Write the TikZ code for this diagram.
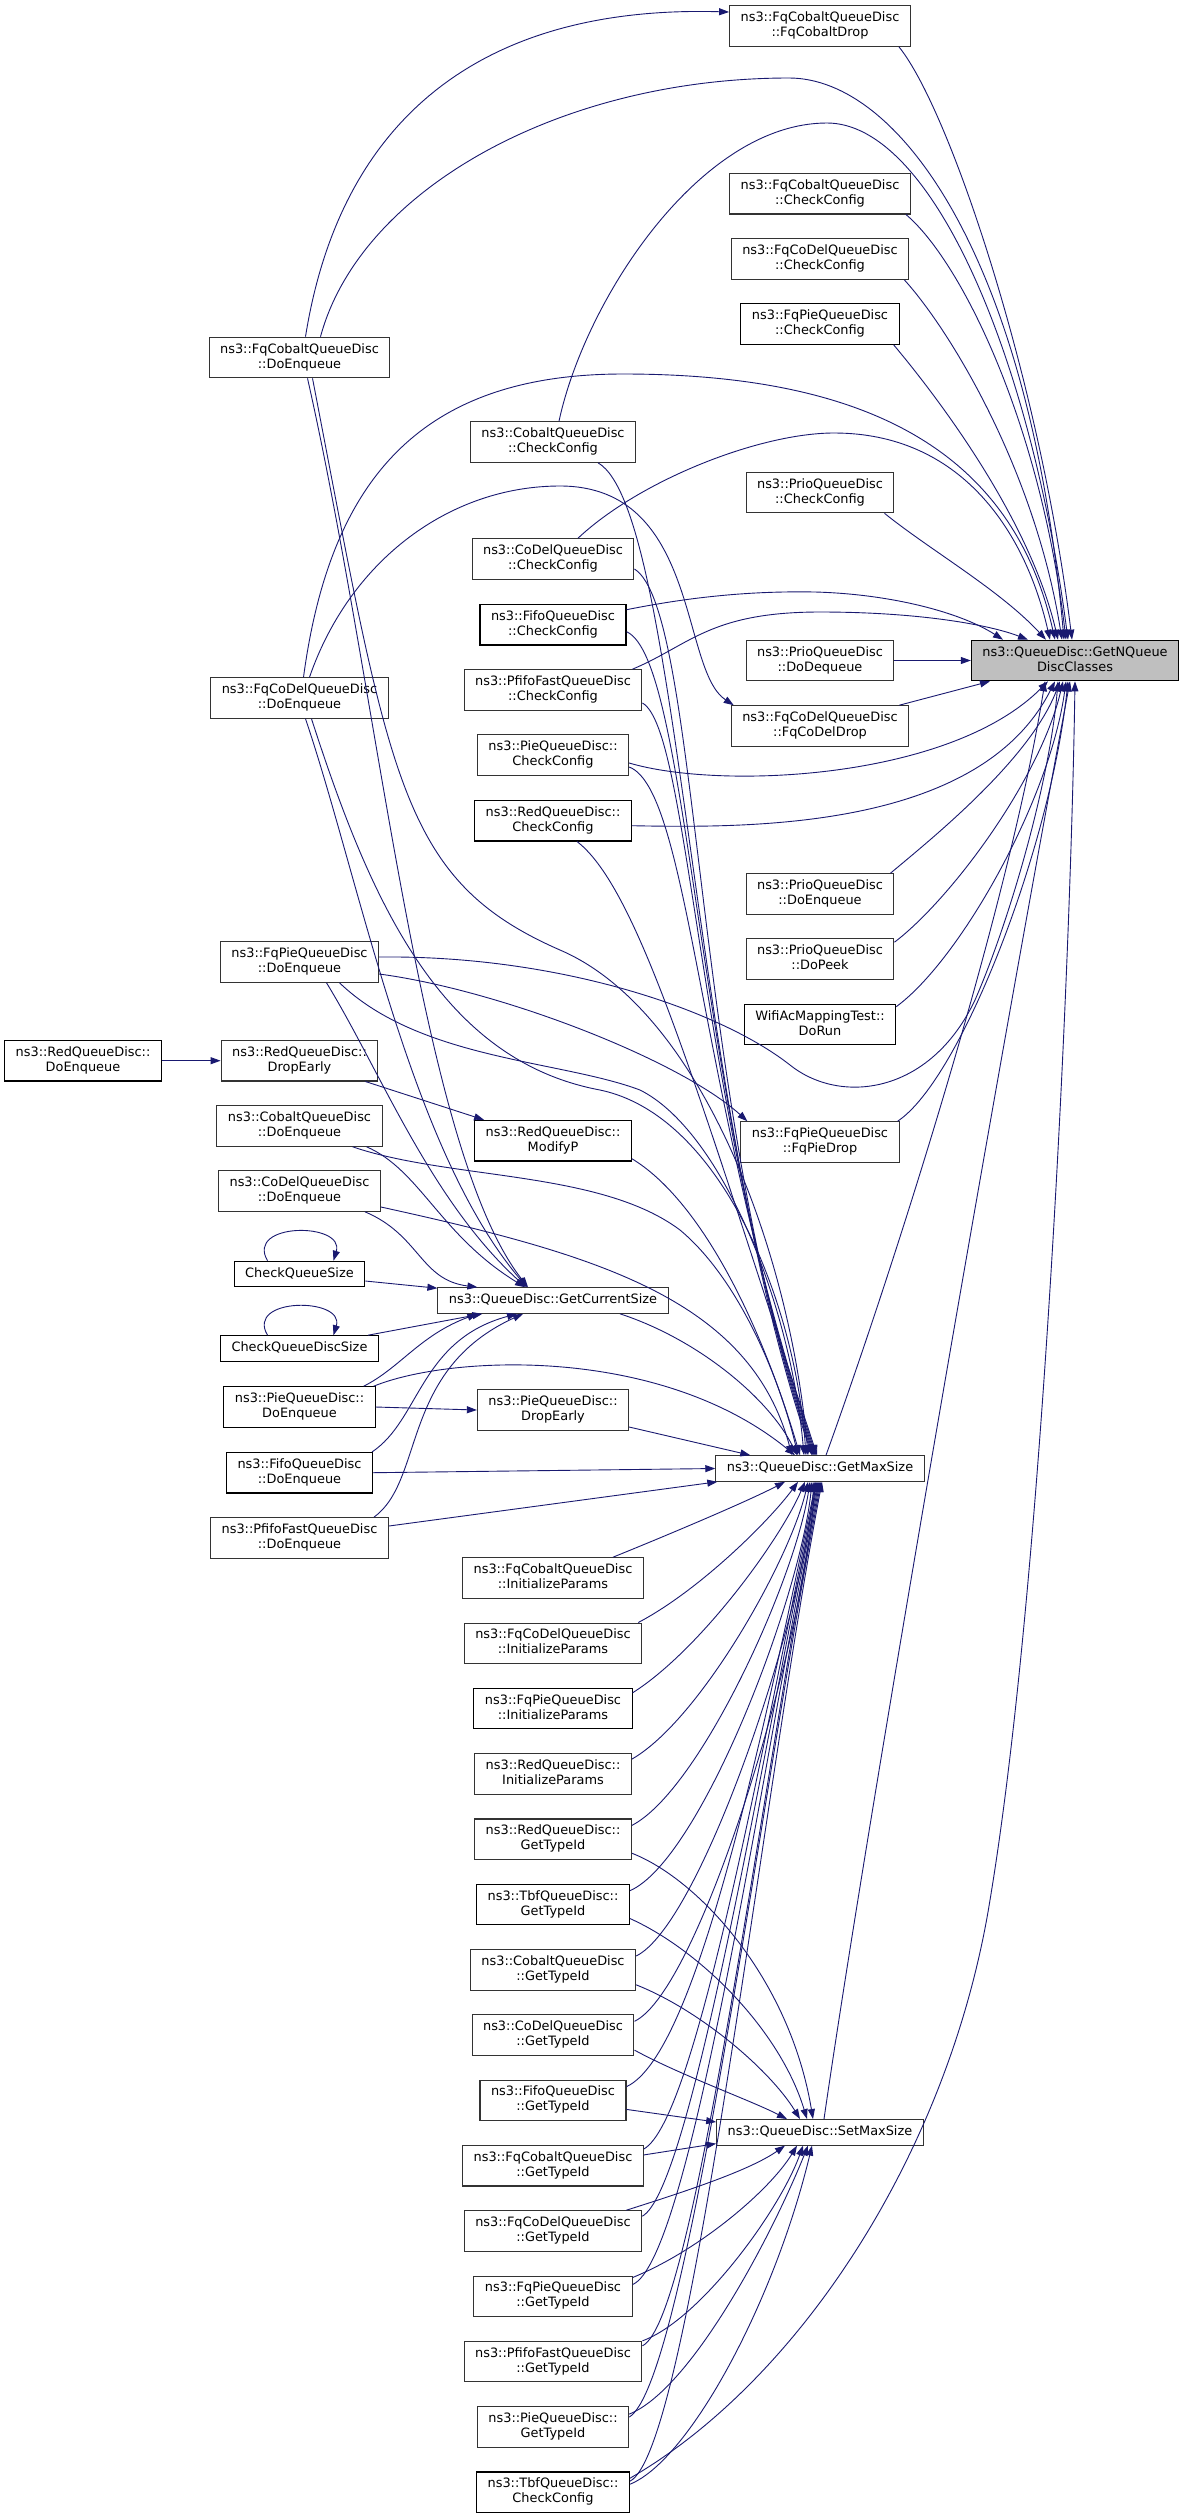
\documentclass[tikz,border=0pt]{standalone}
\usepackage{fontspec}
\newfontfamily\dvs{DejaVu Sans}
\usetikzlibrary{arrows.meta}
\definecolor{edgec}{HTML}{191970}
\definecolor{bord}{HTML}{333333}
\definecolor{hil}{HTML}{BFBFBF}
\begin{document}
\begin{tikzpicture}[x=1pt,y=-1pt,
  box/.style={draw=bord, line width=1.1pt, fill=white, align=center, inner xsep=11pt, inner ysep=5.25pt,
    font=\dvs\fontsize{12.9}{15}\selectfont},
  bbox/.style={box, draw=black},
  root/.style={box, fill=hil, draw=black},
  edge/.style={draw=edgec, line width=0.9pt, -{Triangle[length=10pt,width=7pt]}}]
\useasboundingbox (0,0) rectangle (1185,2519);
\fill[white] (0,0) rectangle (1185,2519);
% column A
\node[bbox] (rdEnq) at (83,1060.7) {\strut ns3::RedQueueDisc::\\\strut DoEnqueue};
% column B
\node[box] (fqcEnq) at (299.5,357.5) {\strut ns3::FqCobaltQueueDisc\\\strut ::DoEnqueue};
\node[box] (fqdEnq) at (299.5,698) {\strut ns3::FqCoDelQueueDisc\\\strut ::DoEnqueue};
\node[box] (fqpEnq) at (299.5,962) {\strut ns3::FqPieQueueDisc\\\strut ::DoEnqueue};
\node[box] (rdDrop) at (299.5,1060.7) {\strut ns3::RedQueueDisc::\\\strut DropEarly};
\node[box] (cobEnq) at (299.5,1126) {\strut ns3::CobaltQueueDisc\\\strut ::DoEnqueue};
\node[box] (cdEnq) at (299.5,1191) {\strut ns3::CoDelQueueDisc\\\strut ::DoEnqueue};
\node[bbox] (cqs) at (299.5,1274) {\strut CheckQueueSize};
\node[bbox] (cqds) at (299.5,1348.5) {\strut CheckQueueDiscSize};
\node[bbox] (pieEnq) at (299.5,1407) {\strut ns3::PieQueueDisc::\\\strut DoEnqueue};
\node[bbox] (fifoEnq) at (299.5,1472.7) {\strut ns3::FifoQueueDisc\\\strut ::DoEnqueue};
\node[box] (pfEnq) at (299.5,1538) {\strut ns3::PfifoFastQueueDisc\\\strut ::DoEnqueue};
% column C
\node[box] (cobCC) at (553,442) {\strut ns3::CobaltQueueDisc\\\strut ::CheckConfig};
\node[box] (cdCC) at (553,559) {\strut ns3::CoDelQueueDisc\\\strut ::CheckConfig};
\node[bbox] (fifoCC) at (553,624.7) {\strut ns3::FifoQueueDisc\\\strut ::CheckConfig};
\node[box] (pfCC) at (553,690) {\strut ns3::PfifoFastQueueDisc\\\strut ::CheckConfig};
\node[box] (pieCC) at (553,755) {\strut ns3::PieQueueDisc::\\\strut CheckConfig};
\node[bbox] (rdCC) at (553,820.7) {\strut ns3::RedQueueDisc::\\\strut CheckConfig};
\node[bbox] (modP) at (553,1140.7) {\strut ns3::RedQueueDisc::\\\strut ModifyP};
\node[box] (gcs) at (553,1300.5) {\strut ns3::QueueDisc::GetCurrentSize};
\node[box] (pieDrop) at (553,1410) {\strut ns3::PieQueueDisc::\\\strut DropEarly};
\node[box] (fqcIP) at (553,1578) {\strut ns3::FqCobaltQueueDisc\\\strut ::InitializeParams};
\node[box] (fqdIP) at (553,1643.3) {\strut ns3::FqCoDelQueueDisc\\\strut ::InitializeParams};
\node[bbox] (fqpIP) at (553,1708.6) {\strut ns3::FqPieQueueDisc\\\strut ::InitializeParams};
\node[box] (rdIP) at (553,1773.9) {\strut ns3::RedQueueDisc::\\\strut InitializeParams};
\node[box] (rdTI) at (553,1839.2) {\strut ns3::RedQueueDisc::\\\strut GetTypeId};
\node[bbox] (tbfTI) at (553,1904.5) {\strut ns3::TbfQueueDisc::\\\strut GetTypeId};
\node[box] (cobTI) at (553,1969.8) {\strut ns3::CobaltQueueDisc\\\strut ::GetTypeId};
\node[box] (cdTI) at (553,2035.1) {\strut ns3::CoDelQueueDisc\\\strut ::GetTypeId};
\node[box] (fifoTI) at (553,2100.4) {\strut ns3::FifoQueueDisc\\\strut ::GetTypeId};
\node[box] (fqcTI) at (553,2165.7) {\strut ns3::FqCobaltQueueDisc\\\strut ::GetTypeId};
\node[box] (fqdTI) at (553,2231) {\strut ns3::FqCoDelQueueDisc\\\strut ::GetTypeId};
\node[box] (fqpTI) at (553,2296.3) {\strut ns3::FqPieQueueDisc\\\strut ::GetTypeId};
\node[box] (pfTI) at (553,2361.6) {\strut ns3::PfifoFastQueueDisc\\\strut ::GetTypeId};
\node[box] (pieTI) at (553,2426.9) {\strut ns3::PieQueueDisc::\\\strut GetTypeId};
\node[bbox] (tbfCC) at (553,2492.2) {\strut ns3::TbfQueueDisc::\\\strut CheckConfig};
% column D
\node[box] (fqcDrop) at (820,26) {\strut ns3::FqCobaltQueueDisc\\\strut ::FqCobaltDrop};
\node[box] (fqcCC) at (820,193.7) {\strut ns3::FqCobaltQueueDisc\\\strut ::CheckConfig};
\node[box] (fqdCC) at (820,259) {\strut ns3::FqCoDelQueueDisc\\\strut ::CheckConfig};
\node[bbox] (fqpCC) at (820,324) {\strut ns3::FqPieQueueDisc\\\strut ::CheckConfig};
\node[box] (prCC) at (820,492.5) {\strut ns3::PrioQueueDisc\\\strut ::CheckConfig};
\node[box] (prDeq) at (820,660.5) {\strut ns3::PrioQueueDisc\\\strut ::DoDequeue};
\node[box] (fqdDrop) at (820,726) {\strut ns3::FqCoDelQueueDisc\\\strut ::FqCoDelDrop};
\node[box] (prEnq) at (820,894) {\strut ns3::PrioQueueDisc\\\strut ::DoEnqueue};
\node[box] (prPeek) at (820,959) {\strut ns3::PrioQueueDisc\\\strut ::DoPeek};
\node[bbox] (wifi) at (820,1024.5) {\strut WifiAcMappingTest::\\\strut DoRun};
\node[box] (fqpDrop) at (820,1142) {\strut ns3::FqPieQueueDisc\\\strut ::FqPieDrop};
\node[box] (gms) at (820,1468.5) {\strut ns3::QueueDisc::GetMaxSize};
\node[box] (sms) at (820,2132.3) {\strut ns3::QueueDisc::SetMaxSize};
% column E
\node[root] (gnq) at (1075,660.5) {\strut ns3::QueueDisc::GetNQueue\\\strut DiscClasses};

% ---- edges into GetNQueueDiscClasses
\draw[edge] ([xshift=-12pt]fqcDrop.south east) .. controls (950,110) and (1040,380) .. ([xshift=-3pt]gnq.north);
\draw[edge] ([xshift=21pt]fqcEnq.north) .. controls (360,190) and (560,78) .. (789,78) .. controls (900,78) and (1030,260) .. ([xshift=-11pt]gnq.north);
\draw[edge] ([xshift=6pt]cobCC.north) .. controls (585,300) and (700,123) .. (827,123) .. controls (930,123) and (1030,350) .. ([xshift=-7pt]gnq.north);
\draw[edge] ([xshift=-5pt]fqcCC.south east) .. controls (960,260) and (1040,420) .. ([xshift=-9pt]gnq.north);
\draw[edge] ([xshift=-5pt]fqdCC.south east) .. controls (950,330) and (1035,470) .. ([xshift=-13pt]gnq.north);
\draw[edge] ([xshift=-6pt]fqpCC.south east) .. controls (940,400) and (1030,520) .. ([xshift=-17pt]gnq.north);
\draw[edge] ([xshift=4pt]fqdEnq.north) .. controls (330,480) and (420,374) .. (623,374) .. controls (850,374) and (1010,440) .. ([xshift=-20pt]gnq.north);
\draw[edge] ([xshift=25pt]cdCC.north) .. controls (640,480) and (760,433) .. (834,433) .. controls (960,433) and (1025,530) .. ([xshift=-25pt]gnq.north);
\draw[edge] ([xshift=-10pt]prCC.south east) .. controls (930,550) and (1000,590) .. ([xshift=-29pt]gnq.north);
\draw[edge] ([xshift=-10pt]pfCC.north east) .. controls (690,645) and (710,612) .. (820,612) .. controls (920,612) and (990,625) .. ([xshift=-47pt]gnq.north);
\draw[edge] ([yshift=15pt]fifoCC.east) .. controls (700,595) and (760,591) .. (815,592) .. controls (890,594) and (960,612) .. ([xshift=-72pt]gnq.north);
\draw[edge] (prDeq.east) -- (gnq.west);
\draw[edge] ([xshift=-10pt]fqdDrop.north east) -- ([xshift=-85pt]gnq.south);
\draw[edge] ([yshift=-8pt]pieCC.east) .. controls (720,790) and (950,780) .. ([xshift=-27pt]gnq.south);
\draw[edge] ([yshift=-5pt]rdCC.east) .. controls (750,828) and (980,830) .. ([xshift=-20pt]gnq.south);
\draw[edge] ([xshift=-4pt]prEnq.north east) .. controls (930,840) and (1030,760) .. ([xshift=-15pt]gnq.south);
\draw[edge] ([yshift=-4pt]prPeek.north east) .. controls (950,900) and (1040,780) .. ([xshift=-12pt]gnq.south);
\draw[edge] ([yshift=-3pt]wifi.north east) .. controls (960,960) and (1050,800) .. ([xshift=-9pt]gnq.south);
\draw[edge] ([xshift=-2pt]fqpDrop.north east) .. controls (960,1080) and (1050,850) .. ([xshift=-7pt]gnq.south);
\draw[edge] ([yshift=5pt]fqpEnq.east) .. controls (560,955) and (720,1010) .. (790,1065) .. controls (840,1105) and (930,1095) .. (975,1000) .. controls (1010,920) and (1050,780) .. ([xshift=-17pt]gnq.south);
\draw[edge] ([xshift=6pt]gms.north) .. controls (900,1250) and (1010,900) .. ([xshift=-30pt]gnq.south);
\draw[edge] ([xshift=4pt]sms.north) .. controls (870,1800) and (1010,1000) .. ([xshift=-5pt]gnq.south);
\draw[edge] ([yshift=14pt]tbfCC.east) .. controls (800,2380) and (950,2150) .. (990,1900) .. controls (1040,1600) and (1070,1000) .. (gnq.south);

% ---- drop functions and misc
\draw[edge] ([xshift=6pt]fqcEnq.north) .. controls (340,120) and (480,5) .. ([yshift=14pt]fqcDrop.west);
\draw[edge] ([xshift=10pt]fqdEnq.north) .. controls (350,560) and (450,486) .. (560,486) .. controls (700,486) and (680,670) .. ([xshift=3pt]fqdDrop.north west);
\draw[edge] ([yshift=-12pt]fqpEnq.east) .. controls (500,990) and (680,1060) .. ([xshift=7pt]fqpDrop.north west);
\draw[edge] (rdEnq.east) -- (rdDrop.west);
\draw[edge] ([xshift=-13pt]rdDrop.south east) -- ([xshift=10pt]modP.north west);
\draw[edge] (pieEnq.east) -- (pieDrop.west);
\draw[edge] ([xshift=-32pt]cqs.north) .. controls (245,1222) and (345,1222) .. ([xshift=34pt]cqs.north);
\draw[edge] ([xshift=-32pt]cqds.north) .. controls (245,1297) and (345,1297) .. ([xshift=34pt]cqds.north);

% ---- edges into GetCurrentSize
\draw[edge] ([yshift=-7pt]cqs.east) -- ([yshift=-1pt]gcs.north west);
\draw[edge] ([xshift=-11pt]cqds.north east) -- ([xshift=45pt]gcs.south west);
\draw[edge] ([xshift=-12pt]pieEnq.north east) .. controls (400,1368) and (420,1335) .. ([xshift=40pt]gcs.south west);
\draw[edge] ([xshift=-1pt]fifoEnq.north east) .. controls (420,1420) and (420,1340) .. ([xshift=-36pt]gcs.south);
\draw[edge] ([xshift=-15pt]pfEnq.north east) .. controls (425,1480) and (400,1370) .. ([xshift=-30pt]gcs.south);
\draw[edge] ([xshift=-16pt]cdEnq.south east) .. controls (420,1235) and (420,1280) .. ([xshift=40pt]gcs.north west);
\draw[edge] ([xshift=-16pt]cobEnq.south east) .. controls (420,1170) and (440,1235) .. ([xshift=-28pt]gcs.north);
\draw[edge] ([xshift=8pt]fqcEnq.south) .. controls (380,700) and (420,1150) .. ([xshift=-25pt]gcs.north);
\draw[edge] ([xshift=6pt]fqdEnq.south) .. controls (360,880) and (410,1150) .. ([xshift=-26pt]gcs.north);
\draw[edge] ([xshift=27pt]fqpEnq.south) .. controls (380,1070) and (430,1200) .. ([xshift=-27pt]gcs.north);

% ---- edges into GetMaxSize from above
\draw[edge] ([xshift=13pt]fqcEnq.south) .. controls (390,780) and (400,880) .. (560,950) .. controls (700,1010) and (790,1250) .. ([xshift=-12pt]gms.north);
\draw[edge] ([xshift=12pt]fqdEnq.south) .. controls (370,900) and (440,1060) .. (600,1090) .. controls (720,1115) and (795,1300) .. ([xshift=-14pt]gms.north);
\draw[edge] ([xshift=40pt]fqpEnq.south) .. controls (420,1060) and (560,1060) .. (640,1090) .. controls (720,1130) and (790,1300) .. ([xshift=-16pt]gms.north);
\draw[edge] ([xshift=45pt]cobCC.south) .. controls (680,510) and (690,1100) .. ([xshift=-8pt]gms.north);
\draw[edge] ([yshift=-10pt]cdCC.east) .. controls (700,610) and (692,1100) .. ([xshift=-7pt]gms.north);
\draw[edge] ([yshift=-7pt]fifoCC.east) .. controls (690,660) and (694,1100) .. ([xshift=-6pt]gms.north);
\draw[edge] ([yshift=-13pt]pfCC.east) .. controls (690,730) and (696,1100) .. ([xshift=-5pt]gms.north);
\draw[edge] ([yshift=-12pt]pieCC.east) .. controls (690,790) and (698,1100) .. ([xshift=-4pt]gms.north);
\draw[edge] ([xshift=24pt]rdCC.south) .. controls (640,890) and (700,1100) .. ([xshift=-3pt]gms.north);
\draw[edge] ([yshift=-18pt]modP.east) .. controls (700,1200) and (760,1320) .. ([xshift=-20pt]gms.north);
\draw[edge] ([xshift=-30pt]cobEnq.south east) .. controls (450,1180) and (600,1170) .. (680,1230) .. controls (740,1280) and (780,1380) .. ([xshift=-22pt]gms.north);
\draw[edge] ([yshift=-16pt]cdEnq.east) .. controls (600,1255) and (750,1300) .. ([xshift=-28pt]gms.north);
\draw[edge] ([xshift=67pt]gcs.south) .. controls (700,1340) and (770,1400) .. ([xshift=-23pt]gms.north);
\draw[edge] ([xshift=-2pt]pieEnq.north east) .. controls (450,1355) and (660,1345) .. ([xshift=-25pt]gms.north);
\draw[edge] ([yshift=-17pt]pieDrop.east) -- ([xshift=35pt]gms.north west);
\draw[edge] (fifoEnq.east) -- (gms.west);
\draw[edge] ([yshift=12pt]pfEnq.east) -- ([xshift=2pt]gms.south west);

% ---- edges into GetMaxSize from below
\draw[edge] ([xshift=-31pt]fqcIP.north east) .. controls (680,1530) and (750,1500) .. ([xshift=-35pt]gms.south);
\draw[edge] ([xshift=-4pt]fqdIP.north east) .. controls (700,1590) and (770,1520) .. ([xshift=-22pt]gms.south);
\draw[edge] ([yshift=-5pt]fqpIP.north east) .. controls (700,1650) and (780,1540) .. ([xshift=-15pt]gms.south);
\draw[edge] ([yshift=-6pt]rdIP.north east) .. controls (700,1720) and (790,1560) .. ([xshift=-12pt]gms.south);
\draw[edge] ([yshift=-7pt]rdTI.north east) .. controls (700,1790) and (795,1580) .. ([xshift=-10pt]gms.south);
\draw[edge] ([yshift=-7pt]tbfTI.north east) .. controls (700,1860) and (800,1600) .. ([xshift=-8pt]gms.south);
\draw[edge] ([yshift=-7pt]cobTI.north east) .. controls (700,1925) and (803,1620) .. ([xshift=-6pt]gms.south);
\draw[edge] ([yshift=-7pt]cdTI.north east) .. controls (700,1990) and (805,1640) .. ([xshift=-5pt]gms.south);
\draw[edge] ([yshift=-7pt]fifoTI.north east) .. controls (695,2055) and (760,1750) .. ([xshift=-4pt]gms.south);
\draw[edge] ([yshift=-4pt]fqcTI.north east) .. controls (695,2120) and (760,1760) .. ([xshift=-3pt]gms.south);
\draw[edge] ([yshift=-6pt]fqdTI.north east) .. controls (690,2190) and (760,1770) .. ([xshift=-2pt]gms.south);
\draw[edge] ([yshift=-9pt]fqpTI.north east) .. controls (690,2260) and (760,1780) .. ([xshift=-1pt]gms.south);
\draw[edge] ([yshift=-5pt]pfTI.north east) .. controls (695,2320) and (760,1790) .. (gms.south);
\draw[edge] ([yshift=-11pt]pieTI.north east) .. controls (686,2383) and (760,1800) .. ([xshift=1pt]gms.south);
\draw[edge] ([yshift=11pt]tbfCC.east) .. controls (690,2450) and (760,1810) .. ([xshift=2pt]gms.south);

% ---- edges into SetMaxSize
\draw[edge] ([yshift=-14pt]rdTI.east) .. controls (700,1880) and (790,1980) .. ([xshift=-7pt]sms.north);
\draw[edge] ([yshift=-14pt]tbfTI.east) .. controls (700,1950) and (780,2030) .. ([xshift=-13pt]sms.north);
\draw[edge] ([yshift=-15pt]cobTI.east) .. controls (700,2010) and (770,2070) .. ([xshift=-20pt]sms.north);
\draw[edge] ([yshift=-15pt]cdTI.east) .. controls (680,2075) and (750,2100) .. ([xshift=-33pt]sms.north);
\draw[edge] ([yshift=-9pt]fifoTI.east) -- ([yshift=-3pt]sms.north west);
\draw[edge] ([yshift=-10pt]fqcTI.north east) -- ([yshift=2pt]sms.south west);
\draw[edge] ([xshift=-16pt]fqdTI.north east) .. controls (690,2190) and (750,2170) .. ([xshift=-35pt]sms.south);
\draw[edge] ([yshift=-2pt]fqpTI.north east) .. controls (700,2250) and (770,2190) .. ([xshift=-23pt]sms.south);
\draw[edge] (pfTI.north east) .. controls (700,2320) and (780,2210) .. ([xshift=-17pt]sms.south);
\draw[edge] ([yshift=-8pt]pieTI.north east) .. controls (690,2390) and (770,2240) .. ([xshift=-12pt]sms.south);
\draw[edge] ([yshift=8pt]tbfCC.east) .. controls (690,2460) and (775,2300) .. ([xshift=-8pt]sms.south);
\end{tikzpicture}
\end{document}
